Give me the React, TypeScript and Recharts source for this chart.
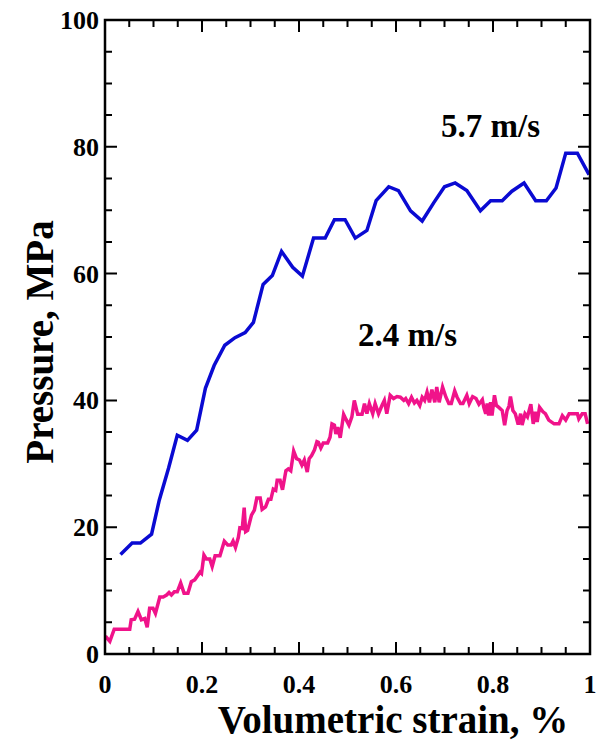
import { LineChart, Line, XAxis, YAxis } from 'recharts'

// 5.7 m/s impact
const strain57 = [
    0.032, 0.056, 0.073, 0.096, 0.112, 0.131, 0.149, 0.17, 0.189, 0.207, 0.225, 0.247, 0.268, 0.289, 0.306, 0.326,
    0.345, 0.364, 0.387, 0.407, 0.43, 0.454, 0.473, 0.495, 0.516, 0.54, 0.559, 0.585, 0.605, 0.63, 0.654, 0.678,
    0.7, 0.722, 0.746, 0.774, 0.795, 0.819, 0.839, 0.864, 0.888, 0.91, 0.93, 0.95, 0.974, 0.998,
]
const pressure57 = [
    15.7, 17.5, 17.5, 18.9, 24.3, 29.3, 34.5, 33.7, 35.3, 41.9, 45.5, 48.7, 49.9, 50.7, 52.3, 58.3,
    59.7, 63.5, 61.0, 59.6, 65.6, 65.6, 68.5, 68.5, 65.6, 66.8, 71.5, 73.7, 73.1, 69.9, 68.3, 71.2,
    73.7, 74.3, 73.1, 69.9, 71.5, 71.5, 73.0, 74.3, 71.5, 71.5, 73.5, 79.0, 79.0, 75.6,
]

// 2.4 m/s impact
const strain24 = [
    0.001, 0.01, 0.019, 0.051, 0.054, 0.061, 0.068, 0.075, 0.082, 0.087, 0.092, 0.099, 0.104, 0.113, 0.12, 0.127,
    0.132, 0.137, 0.143, 0.149, 0.156, 0.163, 0.171, 0.178, 0.185,
    0.196, 0.199, 0.204, 0.209, 0.216, 0.221, 0.227, 0.237, 0.246, 0.253, 0.26, 0.264, 0.269, 0.275, 0.278, 0.283,
    0.287, 0.29, 0.294, 0.302, 0.308, 0.313, 0.32, 0.324, 0.331, 0.337, 0.342, 0.347, 0.352, 0.355, 0.361, 0.366,
    0.373, 0.378, 0.383, 0.389, 0.395, 0.401, 0.406, 0.411, 0.417, 0.421, 0.426, 0.432, 0.437, 0.44, 0.445, 0.45,
    0.459, 0.464, 0.468, 0.473, 0.476, 0.48, 0.485, 0.492, 0.497, 0.503, 0.509, 0.514, 0.521, 0.53, 0.535, 0.54,
    0.545, 0.552, 0.557, 0.564, 0.571, 0.576, 0.581, 0.588, 0.595, 0.602, 0.609, 0.616, 0.62, 0.626, 0.632, 0.638,
    0.643, 0.649, 0.654, 0.659, 0.664, 0.669, 0.674, 0.68, 0.684, 0.689, 0.696, 0.703, 0.709, 0.714, 0.721, 0.726,
    0.733, 0.738, 0.746, 0.751,
    0.758, 0.765, 0.771, 0.778, 0.781, 0.785, 0.788, 0.791, 0.795, 0.798, 0.803, 0.807, 0.812, 0.819, 0.824, 0.829,
    0.833, 0.836, 0.841, 0.846, 0.852, 0.857, 0.86, 0.866, 0.871, 0.878, 0.883, 0.887, 0.891, 0.896, 0.903, 0.908,
    0.915, 0.926, 0.936, 0.943, 0.95, 0.957, 0.967, 0.974, 0.977, 0.984, 0.99, 0.995,
]
const pressure24 = [
    2.8, 2.0, 3.9, 3.9, 5.4, 5.5, 6.7, 5.4, 5.6, 4.2, 7.2, 7.2, 6.4, 9.0, 9.0, 9.3,
    9.7, 9.3, 9.8, 9.8, 11.2, 9.6, 9.6, 11.4, 11.7,
    12.9, 12.7, 15.6, 15.0, 15.0, 13.8, 15.5, 15.5, 17.8, 17.2, 17.2, 17.8, 16.8, 18.4, 19.9, 19.8,
    23.1, 19.3, 19.5, 21.9, 22.7, 24.6, 24.6, 22.8, 23.2, 24.4, 24.4, 26.0, 25.8, 27.4, 27.4, 25.9,
    28.9, 29.2, 28.9, 32.0, 30.8, 30.6, 29.8, 30.6, 28.7, 30.8, 31.3, 32.2, 33.5, 33.4, 32.5, 33.3,
    33.3, 34.2, 36.3, 36.1, 34.7, 35.8, 34.1, 37.8, 37.0, 36.1, 37.4, 40.0, 37.8, 37.8, 39.5, 37.9,
    39.5, 37.9, 39.5, 37.9, 39.2, 40.0, 37.9, 40.8, 40.3, 40.6, 40.5, 40.0, 40.3, 39.5, 40.5, 39.6,
    40.0, 39.2, 40.5, 40.0, 41.3, 39.7, 41.7, 39.7, 42.1, 39.7, 42.1, 40.5, 39.5, 39.5, 41.5, 40.5,
    39.5, 39.5, 40.8, 39.5,
    40.6, 40.3, 39.4, 40.1, 38.9, 37.9, 39.5, 37.6, 39.7, 37.6, 40.8, 39.2, 38.9, 38.4, 36.1, 38.4,
    39.1, 40.6, 38.4, 37.9, 36.2, 37.9, 36.1, 37.9, 37.4, 39.4, 36.3, 38.2, 36.6, 38.9, 38.2, 37.9,
    36.9, 36.3, 36.3, 37.6, 36.9, 37.9, 37.9, 37.9, 37.1, 37.9, 37.9, 36.3,
]

const xTicks = [0, 0.05, 0.1, 0.15, 0.2, 0.25, 0.3, 0.35, 0.4, 0.45, 0.5, 0.55, 0.6, 0.65, 0.7, 0.75, 0.8, 0.85, 0.9, 0.95, 1]
const yTicks = [0, 5, 10, 15, 20, 25, 30, 35, 40, 45, 50, 55, 60, 65, 70, 75, 80, 85, 90, 95, 100]
const xLabels = ['0', '0.2', '0.4', '0.6', '0.8', '1']
const yLabels = ['0', '20', '40', '60', '80', '100']

const fast = strain57.map((s, i) => ({ strain: s, pressure: pressure57[i] }))
const slow = strain24.map((s, i) => ({ strain: s, pressure: pressure24[i] }))

const FONT = '"Liberation Serif", "Times New Roman", serif'
const W = 609
const H = 744
const X_AXIS_H = 90
const Y_AXIS_W = 105
const TOP = 20
const RIGHT = 19
const LEFT = Y_AXIS_W
const BOTTOM = H - X_AXIS_H
const PLOT_W = W - RIGHT - Y_AXIS_W
const PLOT_H = BOTTOM - TOP
const MAJOR = 12
const MINOR = 7

// same linear mapping as the chart's axes (domain 0..1 and 0..100), used only for the frame ticks
const px = (v: number) => LEFT + v * PLOT_W
const py = (v: number) => BOTTOM - (v / 100) * PLOT_H

// eslint-disable-next-line @typescript-eslint/no-explicit-any
const BottomTick = (props: any) => {
    const { x, y, index } = props
    if (index % 4 !== 0) return <g />
    return (
        <text x={x} y={y + 39} textAnchor="middle" fontFamily={FONT} fontWeight="bold" fontSize={26} fill="#000">
            {xLabels[index / 4]}
        </text>
    )
}

// eslint-disable-next-line @typescript-eslint/no-explicit-any
const LeftTick = (props: any) => {
    const { x, y, index } = props
    if (index % 4 !== 0) return <g />
    return (
        <text x={x - 6} y={y + 9} textAnchor="end" fontFamily={FONT} fontWeight="bold" fontSize={26} fill="#000">
            {yLabels[index / 4]}
        </text>
    )
}

// frame and inward ticks on all four sides, drawn on top of the chart
const Frame = () => {
    const d: string[] = []
    xTicks.forEach((v, i) => {
        const len = i % 4 === 0 ? MAJOR : MINOR
        const x = px(v)
        d.push(`M${x},${BOTTOM}V${BOTTOM - len}M${x},${TOP}V${TOP + len}`)
    })
    yTicks.forEach((v, i) => {
        const len = i % 4 === 0 ? MAJOR : MINOR
        const y = py(v)
        d.push(`M${LEFT},${y}H${LEFT + len}M${LEFT + PLOT_W},${y}H${LEFT + PLOT_W - len}`)
    })
    return (
        <g>
            <path d={d.join('')} stroke="#000" strokeWidth={2} fill="none" />
            <rect x={LEFT} y={TOP} width={PLOT_W} height={PLOT_H} stroke="#000" strokeWidth={2.5} fill="none" />
        </g>
    )
}

export default function App() {
    return (
        <div style={{ position: 'absolute', left: 0, top: 0 }}>
            <LineChart width={W} height={H} margin={{ top: TOP, right: RIGHT, bottom: 0, left: 0 }}>
                <XAxis dataKey="strain" type="number" domain={[0, 1]} ticks={xTicks} interval={0}
                    height={X_AXIS_H} tickSize={0} tickMargin={0} tickLine={false} axisLine={false} tick={BottomTick} />
                <YAxis type="number" domain={[0, 100]} ticks={yTicks} interval={0}
                    width={Y_AXIS_W} tickSize={0} tickMargin={0} tickLine={false} axisLine={false} tick={LeftTick} />
                <Line data={slow} dataKey="pressure" type="linear" stroke="#f0138a" strokeWidth={3.5} dot={false} isAnimationActive={false} />
                <Line data={fast} dataKey="pressure" type="linear" stroke="#0a0ad2" strokeWidth={3.5} dot={false} isAnimationActive={false} />
            </LineChart>
            <svg width={W} height={H} style={{ position: 'absolute', left: 0, top: 0, pointerEvents: 'none' }}>
                <Frame />
                <g fontFamily={FONT} fontWeight="bold" fill="#000">
                    <text x={441} y={137} fontSize={33}>5.7 m/s</text>
                    <text x={358} y={346} fontSize={33}>2.4 m/s</text>
                    <text x={393} y={733} fontSize={39} textAnchor="middle">Volumetric strain, %</text>
                    <text x={53} y={342} fontSize={39} textAnchor="middle" transform="rotate(-90 53 342)">Pressure, MPa</text>
                </g>
            </svg>
        </div>
    )
}
